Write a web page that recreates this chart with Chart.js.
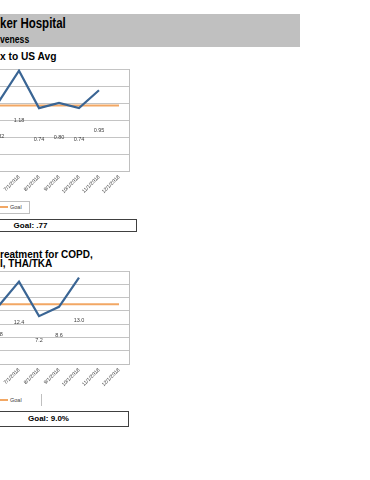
<!DOCTYPE html>
<html>
<head>
<meta charset="utf-8">
<script src="https://cdn.jsdelivr.net/npm/chart.js@4"></script>
<style>
  html, body { margin: 0; padding: 0; width: 370px; height: 480px; overflow: hidden; background: #fff; }
  body { position: relative; font-family: "Liberation Sans", Arial, sans-serif; color: #000; }
  .abs { position: absolute; white-space: nowrap; }
  .narrow { transform: scaleX(0.82); transform-origin: left top; }
  .band { left: 0; top: 14px; width: 300px; height: 33px; background: #c0c0c0; }
  .legbox { border: 1px solid #bfbfbf; box-sizing: border-box; }
  .swatch { width: 8px; height: 2px; background: #f2a764; }
  .legtxt { font-size: 5.5px; line-height: 6px; color: #404040; }
  .goalbox { border: 1px solid #404040; box-sizing: border-box; font-weight: bold; font-size: 8px; text-align: center; }
  canvas { position: absolute; }
</style>
</head>
<body>

<div class="abs band"></div>
<div class="abs narrow" style="left:0;top:16px;font-weight:bold;font-size:14px;line-height:14px;">ker Hospital</div>
<div class="abs narrow" style="left:0;top:34px;font-weight:bold;font-size:10.5px;line-height:10.5px;">veness</div>
<div class="abs" style="left:0;top:52px;font-weight:bold;font-size:10.2px;line-height:10.2px;">x to US Avg</div>

<canvas id="indexChart" width="200" height="137" style="left:-60px;top:64px;"></canvas>

<div class="abs legbox" style="left:-50px;top:201px;width:80px;height:13px;"></div>
<div class="abs swatch" style="left:0;top:206px;"></div>
<div class="abs legtxt" style="left:10px;top:204px;">Goal</div>
<div class="abs goalbox" style="left:-76px;top:219px;width:213px;height:13px;line-height:11px;">Goal: .77</div>

<div class="abs" style="left:0;top:250px;font-weight:bold;font-size:10px;line-height:10px;">reatment for COPD,</div>
<div class="abs" style="left:0;top:259px;font-weight:bold;font-size:10px;line-height:10px;">I, THA/TKA</div>

<canvas id="copdChart" width="200" height="128" style="left:-60px;top:266px;"></canvas>

<div class="abs" style="left:41px;top:394px;width:1px;height:12px;background:#bfbfbf;"></div>
<div class="abs swatch" style="left:0;top:399px;"></div>
<div class="abs legtxt" style="left:10px;top:397px;">Goal</div>
<div class="abs goalbox" style="left:-32px;top:411px;width:161px;height:16px;line-height:14px;">Goal: 9.0%</div>

<script>
// ข้อมูลกราฟ (ส่วนที่มองเห็นได้ เริ่มที่ 6/1/2018)
const months = ['6/1/2018', '7/1/2018', '8/1/2018', '9/1/2018', '10/1/2018', '11/1/2018', '12/1/2018'];

const indexValues = [0.82, 1.18, 0.74, 0.80, 0.74, 0.95, null];
const indexGoal = [0.77, 0.77, 0.77, 0.77, 0.77, 0.77, 0.77];

const copdValues = [8.8, 12.4, 7.2, 8.6, 13.0, null, null];
const copdGoal = [9.0, 9.0, 9.0, 9.0, 9.0, 9.0, 9.0];

const FONT = '"Liberation Sans", Arial, sans-serif';
const BLUE = '#3a6594';
const ORANGE = '#f2a764';

// ป้ายค่าข้อมูล วางตามแกน y2 (แกนรองที่ซ่อนไว้)
const valueLabels = {
    id: 'valueLabels',
    afterDatasetsDraw(chart, args, opts) {
        const ctx = chart.ctx;
        const xs = chart.scales.x;
        const ys = chart.scales.y2;
        ctx.save();
        ctx.font = '5.5px ' + FONT;
        ctx.fillStyle = '#404040';
        ctx.textAlign = 'center';
        ctx.textBaseline = 'middle';
        chart.data.datasets[0].data.forEach((v, i) => {
            if (v === null) return;
            ctx.fillText(v.toFixed(opts.digits), xs.getPixelForValue(i), ys.getPixelForValue(v));
        });
        ctx.restore();
    }
};

function makeChart(id, label, values, goal, yMax, yStep, digits) {
    const ctx = document.getElementById(id).getContext('2d');
    return new Chart(ctx, {
        type: 'line',
        data: {
            labels: months,
            datasets: [{
                label: label,
                data: values,
                borderColor: BLUE,
                borderWidth: 2.2,
                pointRadius: 0,
                tension: 0,
                yAxisID: 'y'
            }, {
                label: 'Goal',
                data: goal,
                borderColor: ORANGE,
                borderWidth: 2,
                pointRadius: 0,
                tension: 0,
                yAxisID: 'y'
            }]
        },
        options: {
            responsive: false,
            animation: false,
            layout: { padding: { top: 5, right: 11, bottom: 0, left: 0 } },
            plugins: {
                legend: { display: false },
                tooltip: { enabled: false },
                valueLabels: { digits: digits }
            },
            scales: {
                x: {
                    offset: true,
                    grid: { display: false, drawTicks: false },
                    border: { color: '#bfbfbf' },
                    ticks: {
                        autoSkip: false,
                        minRotation: 45,
                        maxRotation: 45,
                        padding: 3,
                        color: '#404040',
                        font: { size: 5.2, family: FONT }
                    },
                    afterFit: s => { s.height = 30; }
                },
                y: {
                    min: 0,
                    max: yMax,
                    ticks: { stepSize: yStep, display: false },
                    grid: { color: '#c4c4c4', drawTicks: false },
                    border: { display: false },
                    afterFit: s => { s.width = 49; }
                },
                y2: {
                    position: 'right',
                    min: 0,
                    max: yMax * 2,
                    ticks: { display: false },
                    grid: { display: false, drawTicks: false },
                    border: { color: '#bfbfbf' },
                    afterFit: s => { s.width = 0; }
                }
            }
        },
        plugins: [valueLabels]
    });
}

makeChart('indexChart', 'Hospital', indexValues, indexGoal, 1.2, 0.2, 2);
makeChart('copdChart', 'Hospital', copdValues, copdGoal, 14, 2, 1);
</script>
</body>
</html>
